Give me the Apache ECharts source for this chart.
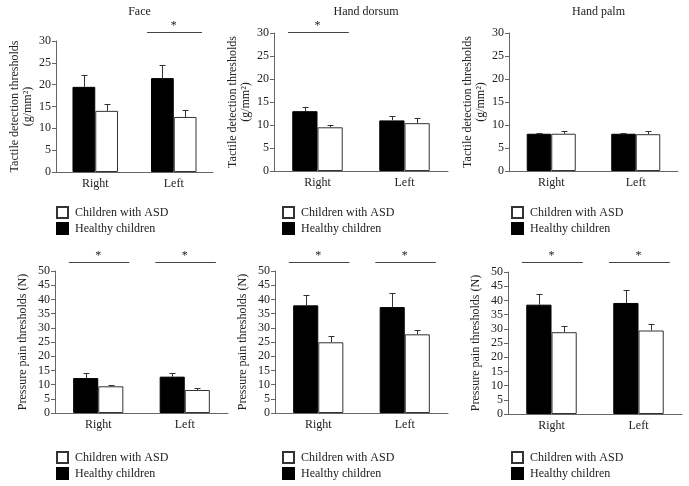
<!DOCTYPE html>
<html><head><meta charset="utf-8">
<script src="https://cdn.jsdelivr.net/npm/echarts@6/dist/echarts.min.js"></script>
<style>html,body{margin:0;padding:0;background:#fff}#c{width:689px;height:486px}</style>
</head><body><div id="c"></div>
<script>
const categories = ['Right', 'Left'];
const panelTitles = ['Face', 'Hand dorsum', 'Hand palm'];
const seriesNames = ['Healthy children', 'Children with ASD'];
const legendOrder = ['Children with ASD', 'Healthy children'];
const topAxisName = 'Tactile detection thresholds\n(g/mm²)';
const bottomAxisName = 'Pressure pain thresholds (N)';
const topTicks = { min: 0, max: 30, interval: 5 };
const bottomTicks = { min: 0, max: 50, interval: 5 };
// panels: 0 Face tactile, 1 Dorsum tactile, 2 Palm tactile, 3 Face pain, 4 Dorsum pain, 5 Palm pain
const healthyMean = [[19.5, 21.5], [13.0, 11.0], [8.1, 8.1], [12.3, 12.8], [37.9, 37.3], [38.5, 39.1]];
const healthyErrTop = [[22.2, 24.6], [14.0, 12.0], [8.3, 8.3], [14.0, 14.0], [41.4, 42.4], [42.4, 43.6]];
const asdMean = [[14.0, 12.6], [9.5, 10.4], [8.1, 8.0], [9.4, 8.1], [24.9, 27.7], [28.8, 29.4]];
const asdErrTop = [[15.5, 14.3], [10.1, 11.6], [8.7, 8.7], [9.9, 8.8], [27.0, 29.4], [31.1, 31.7]];
const sigCats = [[1], [0], [], [0, 1], [0, 1], [0, 1]];
const sigLevel = [32.1, 30.2, 0, 53.2, 53.0, 53.4];

const FONT = 'Liberation Serif';
const AXC = '#666';
const grids = [
  { left: 56, top: 41, width: 157, height: 131 },
  { left: 274, top: 33, width: 174, height: 138 },
  { left: 509, top: 33, width: 169, height: 138 },
  { left: 55, top: 271, width: 173, height: 142 },
  { left: 275, top: 271, width: 173, height: 142 },
  { left: 508, top: 272, width: 174, height: 142 }
];
const legendPos = [
  { left: 56, top: 206 }, { left: 282, top: 206 }, { left: 511, top: 206 },
  { left: 56, top: 451 }, { left: 282, top: 451 }, { left: 511, top: 451 }
];
const BW = 0.29;

const option = {
  animation: false,
  backgroundColor: '#fff',
  textStyle: { fontFamily: FONT, color: '#222' },
  title: panelTitles.map((t, i) => ({
    text: t, left: grids[i].left + grids[i].width / 2, top: 1, textAlign: 'center',
    textStyle: { fontFamily: FONT, fontSize: 12, fontWeight: 'normal', color: '#222' }
  })),
  legend: legendPos.map(p => ({
    data: legendOrder, orient: 'vertical', left: p.left, top: p.top, padding: 0,
    itemWidth: 11, itemHeight: 11, itemGap: 3, icon: 'rect', selectedMode: false,
    textStyle: { fontFamily: FONT, fontSize: 12, color: '#222', padding: [0, 0, 0, 2] }
  })),
  grid: grids,
  xAxis: grids.map((g, i) => ({
    type: 'category', gridIndex: i, data: categories,
    axisLine: { lineStyle: { color: AXC } },
    axisTick: { length: 4, lineStyle: { color: AXC } },
    axisLabel: { fontFamily: FONT, fontSize: 12, color: '#222', margin: 6 }
  })),
  yAxis: grids.map((g, i) => {
    const t = i < 3 ? topTicks : bottomTicks;
    return {
      type: 'value', gridIndex: i, min: t.min, max: t.max, interval: t.interval,
      name: i < 3 ? topAxisName : bottomAxisName,
      nameLocation: 'middle', nameRotate: 90, nameGap: i < 3 ? 22 : 26,
      nameTextStyle: { fontFamily: FONT, fontSize: 12, color: '#222', lineHeight: 13 },
      splitLine: { show: false },
      axisLine: { show: true, lineStyle: { color: AXC } },
      axisTick: { show: true, length: 4, lineStyle: { color: AXC } },
      axisLabel: { fontFamily: FONT, fontSize: 12, color: '#222', margin: 5 }
    };
  }),
  series: []
};

for (let i = 0; i < 6; i++) {
  option.series.push({
    type: 'bar', name: seriesNames[0], xAxisIndex: i, yAxisIndex: i,
    data: healthyMean[i], barWidth: (BW * 100) + '%', barGap: '0%',
    itemStyle: { color: '#000', borderColor: '#000', borderWidth: 1 }, silent: true
  });
  option.series.push({
    type: 'bar', name: seriesNames[1], xAxisIndex: i, yAxisIndex: i,
    data: asdMean[i], barWidth: (BW * 100) + '%', barGap: '0%',
    itemStyle: { color: '#fff', borderColor: '#333', borderWidth: 1 }, silent: true
  });
  const errData = [];
  categories.forEach((c, k) => {
    errData.push([k, healthyMean[i][k], healthyErrTop[i][k], 0]);
    errData.push([k, asdMean[i][k], asdErrTop[i][k], 1]);
  });
  option.series.push({
    type: 'custom', xAxisIndex: i, yAxisIndex: i, data: errData, silent: true, z: 5,
    renderItem: (params, api) => {
      const bw = api.size([1, 0])[0];
      const off = (api.value(3) === 0 ? -1 : 1) * bw * BW / 2;
      const p0 = api.coord([api.value(0), api.value(1)]);
      const p1 = api.coord([api.value(0), api.value(2)]);
      const x = Math.round(p0[0] + off) + 0.5;
      const y1 = Math.round(p1[1]) + 0.5;
      const st = { stroke: '#333', lineWidth: 1 };
      return { type: 'group', children: [
        { type: 'line', shape: { x1: x, y1: p0[1], x2: x, y2: y1 }, style: st },
        { type: 'line', shape: { x1: x - 3, y1: y1, x2: x + 3, y2: y1 }, style: st }
      ]};
    }
  });
  if (sigCats[i].length) {
    option.series.push({
      type: 'custom', xAxisIndex: i, yAxisIndex: i, silent: true, clip: false,
      data: sigCats[i].map(k => [k, sigLevel[i]]),
      renderItem: (params, api) => {
        const bw = api.size([1, 0])[0];
        const p = api.coord([api.value(0), api.value(1)]);
        const y = Math.round(p[1]) + 0.5;
        return { type: 'group', children: [
          { type: 'line', shape: { x1: p[0] - bw * 0.34, y1: y, x2: p[0] + bw * 0.36, y2: y },
            style: { stroke: '#444', lineWidth: 1 } },
          { type: 'text', x: p[0], y: y - 1,
            style: { text: '*', fontFamily: FONT, fontSize: 12, fill: '#222', align: 'center', verticalAlign: 'bottom' } }
        ]};
      }
    });
  }
}

const chart = echarts.init(document.getElementById('c'), null, { renderer: 'canvas' });
chart.setOption(option);
</script></body></html>
